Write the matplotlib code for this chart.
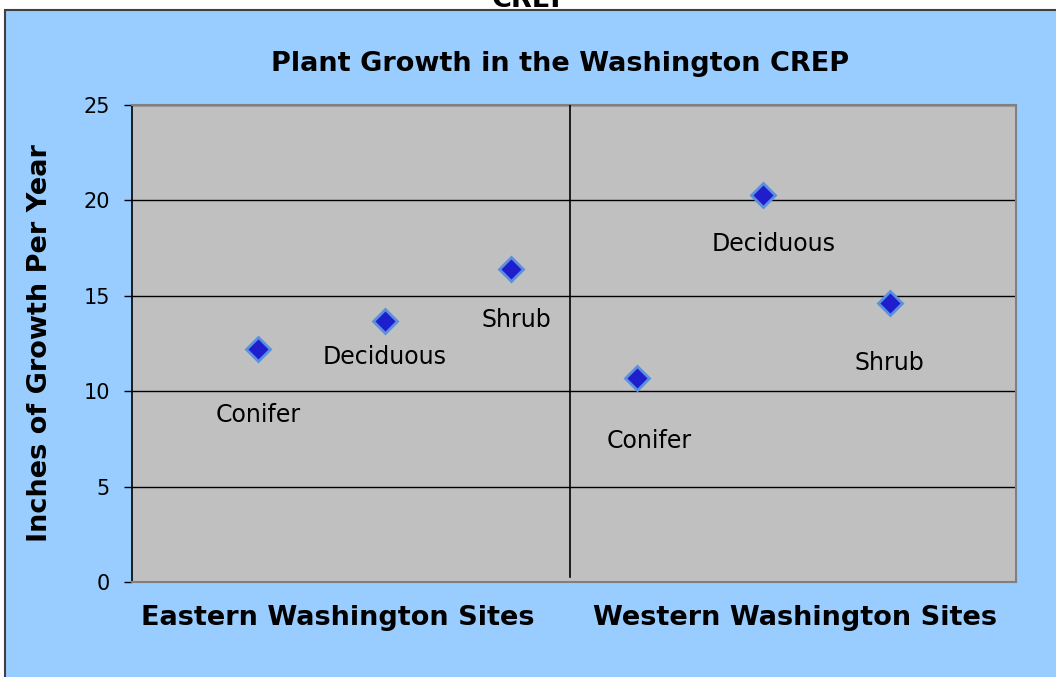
import numpy as np
import matplotlib
matplotlib.use("Agg")
import matplotlib.pyplot as plt
from matplotlib.patches import Rectangle

plt.rcParams['font.family'] = ['DejaVu Sans']

# data
regions = ['Eastern Washington Sites', 'Western Washington Sites']
plant_types = ['Conifer', 'Deciduous', 'Shrub', 'Conifer', 'Deciduous', 'Shrub']
growth = [12.2, 13.7, 16.4, 10.7, 20.3, 14.6]
# label offsets (pixels from marker)
label_dx = [0, 0, 6, 12, 10, 0]
label_dy = [-66, -36, -51, -63, -49, -60]
yticks = [0, 5, 10, 15, 20, 25]

W, H = 1056, 677
fig = plt.figure(figsize=(W / 100, H / 100), dpi=100)
fig.patch.set_facecolor('white')

# light blue chart area with border
fig.patches.append(Rectangle((5 / W, -0.05), 1.1, 1 - 10 / H + 0.05,
                             transform=fig.transFigure, facecolor='#99CCFF',
                             edgecolor='#404040', linewidth=1.5, zorder=-1))

# cut-off title from above
fig.text(531 / W, 1 - 7 / H, 'CREP', ha='center', va='baseline',
         fontsize=19.5, fontweight='bold')

ax = fig.add_axes([132 / W, 1 - 582 / H, (1016 - 132) / W, (582 - 105) / H])
ax.set_facecolor('#C0C0C0')

x = np.arange(1, len(growth) + 1)
ax.plot(x, growth, linestyle='none', marker='D', markersize=12.5,
        markerfacecolor='#1E1ECC', markeredgecolor='#5B8FE0',
        markeredgewidth=2, zorder=5)

for xi, yi, name, dx, dy in zip(x, growth, plant_types, label_dx, label_dy):
    ax.annotate(name, (xi, yi), xytext=(dx * 0.72, dy * 0.72),
                textcoords='offset points', ha='center', va='center',
                fontsize=17)

ax.set_xlim(0, 7)
ax.set_ylim(0, 25)
ax.set_yticks(yticks)
ax.tick_params(axis='y', labelsize=15, direction='out', length=6,
               width=1, pad=10)
ax.set_xticks([])
ax.yaxis.grid(True, color='black', linewidth=1)
ax.set_axisbelow(True)

ax.axvline(3.47, ymin=0.01, ymax=1, color='black', linewidth=1.2, zorder=4)

for s in ['top', 'right', 'bottom']:
    ax.spines[s].set_color('#808080')
    ax.spines[s].set_linewidth(1.5)
ax.spines['left'].set_color('black')
ax.spines['left'].set_linewidth(1.2)

# region labels under the axis
for xc, name in zip([1.63, 5.25], regions):
    ax.text(xc, -1.9, name, ha='center', va='center', fontsize=19.5,
            fontweight='bold')

ax.set_ylabel('Inches of Growth Per Year', fontsize=19.5, fontweight='bold',
              labelpad=22)

fig.text(560 / W, 1 - 64 / H, 'Plant Growth in the Washington CREP',
         ha='center', va='center', fontsize=19.5, fontweight='bold')

fig.savefig('out.png', dpi=100)
